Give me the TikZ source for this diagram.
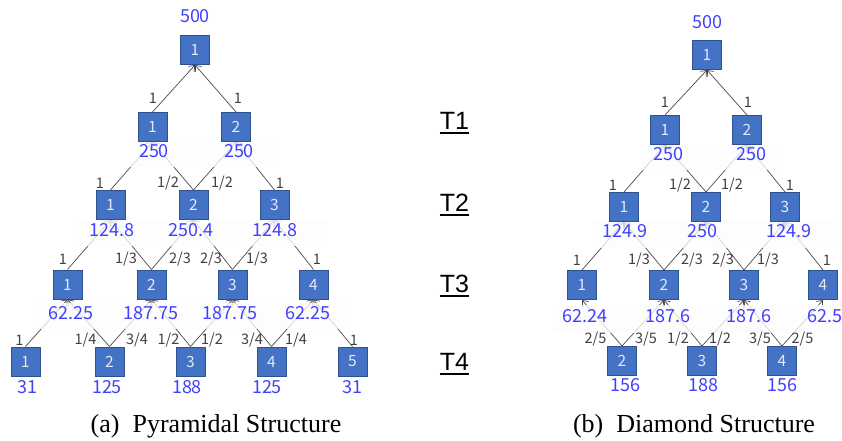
\documentclass[tikz,border=0pt]{standalone}
\usepackage{fontspec}
\setmainfont{Liberation Serif}
\newfontfamily\timesf{Liberation Serif}
\newfontfamily\numfont{Noto Sans CJK JP}
\newfontfamily\arialf{Liberation Sans}
\usetikzlibrary{arrows.meta}
\definecolor{boxfill}{HTML}{4472C4}
\definecolor{boxline}{HTML}{2F528F}
\definecolor{boxtext}{HTML}{E4EAF6}
\definecolor{valblue}{HTML}{4040FF}
\definecolor{wtgray}{HTML}{404040}
\definecolor{edgegray}{HTML}{4A4A4A}
\pgfdeclarelayer{background}
\pgfsetlayers{background,main}
\tikzset{
  box/.style={draw=boxline, line width=1pt, fill=boxfill, minimum width=29pt, minimum height=29pt, inner sep=0pt, text=boxtext, font=\numfont\fontsize{15.5}{15.5}\selectfont},
  val/.style={text=valblue, font=\numfont\fontsize{18}{18}\selectfont, inner sep=0pt},
  wt/.style={text=wtgray, font=\numfont\fontsize{14.5}{14.5}\selectfont, inner sep=0pt},
  edge/.style={draw=edgegray, line width=0.7pt, -{Straight Barb[length=5pt,width=8pt]}},
  band/.style={fill=white!99!black, fill opacity=0.78, draw=none},
  tlab/.style={font=\arialf\fontsize{25}{25}\selectfont, inner sep=0pt, anchor=base},
  captext/.style={font=\timesf\fontsize{26}{30}\selectfont, inner sep=0pt, anchor=base}
}
\begin{document}
\begin{tikzpicture}[x=1pt,y=-1pt]
\useasboundingbox (0,0) rectangle (842,441);
% ---------------- Left: pyramidal ----------------
\node[box] (L0) at (195,50) {1};
\node[box] (L11) at (152.5,127) {1};
\node[box] (L12) at (236,127) {2};
\node[box] (L21) at (110.5,205) {1};
\node[box] (L22) at (193.5,205) {2};
\node[box] (L23) at (274.5,205) {3};
\node[box] (L31) at (67.5,284.5) {1};
\node[box] (L32) at (151.5,284.5) {2};
\node[box] (L33) at (232.5,284.5) {3};
\node[box] (L34) at (313.5,284.5) {4};
\node[box] (L41) at (25.5,361.5) {1};
\node[box] (L42) at (109.5,361.5) {2};
\node[box] (L43) at (190.5,361.5) {3};
\node[box] (L44) at (271.5,361.5) {4};
\node[box] (L45) at (352.5,361.5) {5};
\begin{pgfonlayer}{background}
\draw[edge] (L11.north) -- (L0.south);
\draw[edge] (L12.north) -- (L0.south);
\draw[edge] (L21.north) -- (L11.south);
\draw[edge] (L22.north) -- (L11.south);
\draw[edge] (L22.north) -- (L12.south);
\draw[edge] (L23.north) -- (L12.south);
\draw[edge] (L31.north) -- (L21.south);
\draw[edge] (L32.north) -- (L21.south);
\draw[edge] (L32.north) -- (L22.south);
\draw[edge] (L33.north) -- (L22.south);
\draw[edge] (L33.north) -- (L23.south);
\draw[edge] (L34.north) -- (L23.south);
\draw[edge] (L41.north) -- (L31.south);
\draw[edge] (L42.north) -- (L31.south);
\draw[edge] (L42.north) -- (L32.south);
\draw[edge] (L43.north) -- (L32.south);
\draw[edge] (L43.north) -- (L33.south);
\draw[edge] (L44.north) -- (L33.south);
\draw[edge] (L44.north) -- (L34.south);
\draw[edge] (L45.north) -- (L34.south);
\fill[band] (129,142) rectangle (273,167);
\fill[band] (78,220) rectangle (328,246);
\fill[band] (38,303) rectangle (352,329);
\end{pgfonlayer}
\node[val] (vL0) at (195,16.5) {500};
\node[val] (vL11) at (154,151.5) {250};
\node[val] (vL12) at (239,151.5) {250};
\node[val] (vL21) at (112,230) {124.8};
\node[val] (vL22) at (191,230) {250.4};
\node[val] (vL23) at (275,230) {124.8};
\node[val] (vL31) at (71,313.5) {62.25};
\node[val] (vL32) at (151,313.5) {187.75};
\node[val] (vL33) at (230,313.5) {187.75};
\node[val] (vL34) at (308,313.5) {62.25};
\node[val] (vL41) at (27,387) {31};
\node[val] (vL42) at (107,387) {125};
\node[val] (vL43) at (187,387) {188};
\node[val] (vL44) at (267,387) {125};
\node[val] (vL45) at (352,387) {31};
\node[wt] (wL1a) at (153,98.5) {1};
\node[wt] (wL1b) at (238,98.5) {1};
\node[wt] (wL2a) at (100,183) {1};
\node[wt] (wL2b) at (168,183) {1/2};
\node[wt] (wL2c) at (222,183) {1/2};
\node[wt] (wL2d) at (280,183) {1};
\node[wt] (wL3a) at (63,259.5) {1};
\node[wt] (wL3b) at (126,259.5) {1/3};
\node[wt] (wL3c) at (180,259.5) {2/3};
\node[wt] (wL3d) at (211,259.5) {2/3};
\node[wt] (wL3e) at (257,259.5) {1/3};
\node[wt] (wL3f) at (317,259.5) {1};
\node[wt] (wL4a) at (19.5,340) {1};
\node[wt] (wL4b) at (85.5,340) {1/4};
\node[wt] (wL4c) at (137,340) {3/4};
\node[wt] (wL4d) at (168.5,340) {1/2};
\node[wt] (wL4e) at (212,340) {1/2};
\node[wt] (wL4f) at (252,340) {3/4};
\node[wt] (wL4g) at (296,340) {1/4};
\node[wt] (wL4h) at (354,340) {1};
% ---------------- Right: diamond ----------------
\node[box] (R0) at (707,55) {1};
\node[box] (R11) at (665,130) {1};
\node[box] (R12) at (747,130) {2};
\node[box] (R21) at (624,207) {1};
\node[box] (R22) at (706,207) {2};
\node[box] (R23) at (785,207) {3};
\node[box] (R31) at (582,285) {1};
\node[box] (R32) at (664,285) {2};
\node[box] (R33) at (744,285) {3};
\node[box] (R34) at (823,285) {4};
\node[box] (R42) at (622,361) {2};
\node[box] (R43) at (702,361) {3};
\node[box] (R44) at (782,361) {4};
\begin{pgfonlayer}{background}
\draw[edge] (R11.north) -- (R0.south);
\draw[edge] (R12.north) -- (R0.south);
\draw[edge] (R21.north) -- (R11.south);
\draw[edge] (R22.north) -- (R11.south);
\draw[edge] (R22.north) -- (R12.south);
\draw[edge] (R23.north) -- (R12.south);
\draw[edge] (R31.north) -- (R21.south);
\draw[edge] (R32.north) -- (R21.south);
\draw[edge] (R32.north) -- (R22.south);
\draw[edge] (R33.north) -- (R22.south);
\draw[edge] (R33.north) -- (R23.south);
\draw[edge] (R34.north) -- (R23.south);
\draw[edge] (R42.north) -- (R31.south);
\draw[edge] (R42.north) -- (R32.south);
\draw[edge] (R43.north) -- (R32.south);
\draw[edge] (R43.north) -- (R33.south);
\draw[edge] (R44.north) -- (R33.south);
\draw[edge] (R44.north) -- (R34.south);
\fill[band] (642,144) rectangle (783,170);
\fill[band] (593,220) rectangle (838,248);
\fill[band] (552,305) rectangle (842,333);
\end{pgfonlayer}
\node[val] (vR0) at (707,22) {500};
\node[val] (vR11) at (668,154) {250};
\node[val] (vR12) at (751,154) {250};
\node[val] (vR21) at (625,231) {124.9};
\node[val] (vR22) at (702,231) {250};
\node[val] (vR23) at (789,231) {124.9};
\node[val] (vR31) at (585,316) {62.24};
\node[val] (vR32) at (668,316) {187.6};
\node[val] (vR33) at (749,316) {187.6};
\node[val] (vR34) at (825,316) {62.5};
\node[val] (vR42) at (625,385) {156};
\node[val] (vR43) at (703,385) {188};
\node[val] (vR44) at (782,385) {156};
\node[wt] (wR1a) at (665,102) {1};
\node[wt] (wR1b) at (748,102) {1};
\node[wt] (wR2a) at (613,185) {1};
\node[wt] (wR2b) at (680,185) {1/2};
\node[wt] (wR2c) at (732,185) {1/2};
\node[wt] (wR2d) at (790,185) {1};
\node[wt] (wR3a) at (577,260) {1};
\node[wt] (wR3b) at (639,260) {1/3};
\node[wt] (wR3c) at (692,260) {2/3};
\node[wt] (wR3d) at (723,260) {2/3};
\node[wt] (wR3e) at (768,260) {1/3};
\node[wt] (wR3f) at (827,260) {1};
\node[wt] (wR4a) at (595.5,339.5) {2/5};
\node[wt] (wR4b) at (646,339.5) {3/5};
\node[wt] (wR4c) at (678,339.5) {1/2};
\node[wt] (wR4d) at (720,339.5) {1/2};
\node[wt] (wR4e) at (760,339.5) {3/5};
\node[wt] (wR4f) at (802.5,339.5) {2/5};
% ---------------- T labels ----------------
\node[tlab] (T1) at (454.5,129) {T1};
\node[tlab] (T2) at (454.5,211) {T2};
\node[tlab] (T3) at (454.5,292) {T3};
\node[tlab] (T4) at (454.5,370) {T4};
\foreach \t in {T1,T2,T3,T4}
  \draw[line width=1.5pt] ([yshift=-4pt]\t.base west) -- ([yshift=-4pt]\t.base east);
% ---------------- captions ----------------
\node[captext] (capA) at (216,432) {(a)\hspace{0.5em}Pyramidal Structure};
\node[captext] (capB) at (694,432) {(b)\hspace{0.5em}Diamond Structure};
\end{tikzpicture}
\end{document}
